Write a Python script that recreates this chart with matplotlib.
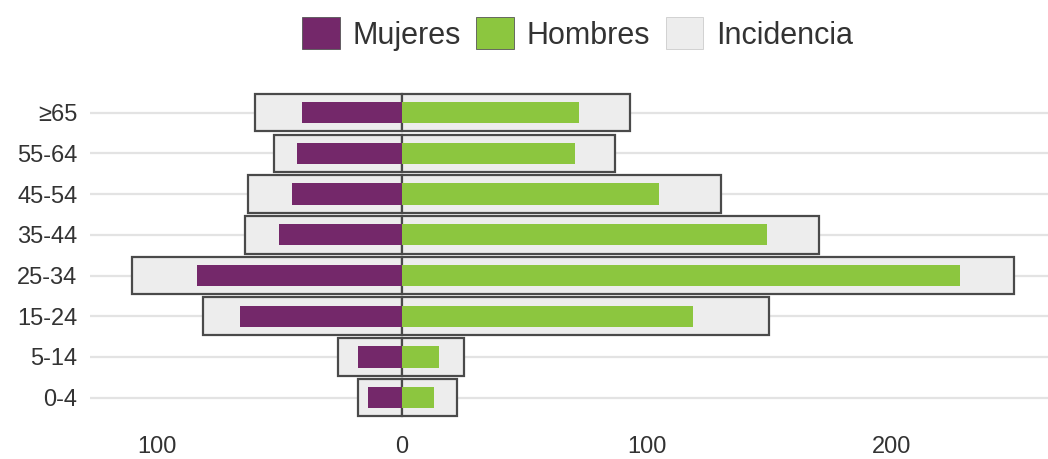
import matplotlib
matplotlib.use("Agg")
import matplotlib.pyplot as plt
from matplotlib.patches import Patch
import numpy as np

plt.rcParams['font.family'] = ['Liberation Sans', 'DejaVu Sans']

categories = ["0-4", "5-14", "15-24", "25-34", "35-44", "45-54", "55-64", "≥65"]
mujeres = [13.6, 18.0, 66.0, 83.4, 50.0, 44.9, 42.7, 40.6]
hombres = [13.3, 15.3, 118.8, 227.8, 149.2, 104.9, 70.7, 72.2]
incidencia_mujeres = [18.0, 25.9, 81.0, 110.0, 64.0, 62.7, 52.0, 60.0]
incidencia_hombres = [22.4, 25.4, 150.0, 249.9, 170.2, 130.2, 87.2, 93.2]
xticks = [-100, 0, 100, 200]
xticklabels = ["100", "0", "100", "200"]

c_muj = "#74286a"
c_hom = "#8cc63f"
c_inc = "#ededed"
c_edge = "#4a4a4a"
c_text = "#333333"

W, H = 1048, 459
fig = plt.figure(figsize=(W / 100, H / 100), dpi=100)
ax = fig.add_axes([90 / W, 1 - 418 / H, 1 - 90 / W, (418 - 92.3) / H])

y = np.arange(len(categories))
neg = -np.array(incidencia_mujeres)
ax.barh(y, neg, height=0.92, color=c_inc, edgecolor=c_edge, linewidth=1.6, zorder=2)
ax.barh(y, incidencia_hombres, height=0.92, color=c_inc, edgecolor=c_edge, linewidth=1.6, zorder=2)
ax.barh(y, -np.array(mujeres), height=0.52, color=c_muj, linewidth=0, zorder=3)
ax.barh(y, hombres, height=0.52, color=c_hom, linewidth=0, zorder=3)

for yi in y:
    ax.axhline(yi, color="#e3e3e3", linewidth=1.6, zorder=1)

ax.set_xlim(-127.2, 263.8)
ax.set_ylim(-0.5, 7.5)
ax.set_yticks(y)
ax.set_yticklabels(categories)
ax.set_xticks(xticks)
ax.set_xticklabels(xticklabels)
ax.tick_params(axis='y', length=0, pad=9, labelsize=17, labelcolor=c_text)
ax.tick_params(axis='x', length=0, pad=13, labelsize=17, labelcolor=c_text)
for s in ax.spines.values():
    s.set_visible(False)

handles = [
    Patch(facecolor=c_muj, edgecolor="#555555", linewidth=0.6),
    Patch(facecolor=c_hom, edgecolor="#555555", linewidth=0.6),
    Patch(facecolor=c_inc, edgecolor="#cccccc", linewidth=0.6),
]
fig.legend(handles, ["Mujeres", "Hombres", "Incidencia"], loc="center",
           bbox_to_anchor=(577.5 / W, 1 - 34 / H), ncol=3, frameon=False,
           fontsize=22, handlelength=1.24, handleheight=1.24,
           handletextpad=0.42, columnspacing=0.5, labelcolor=c_text,
           borderpad=0, borderaxespad=0)

fig.savefig("out.png", dpi=100)
